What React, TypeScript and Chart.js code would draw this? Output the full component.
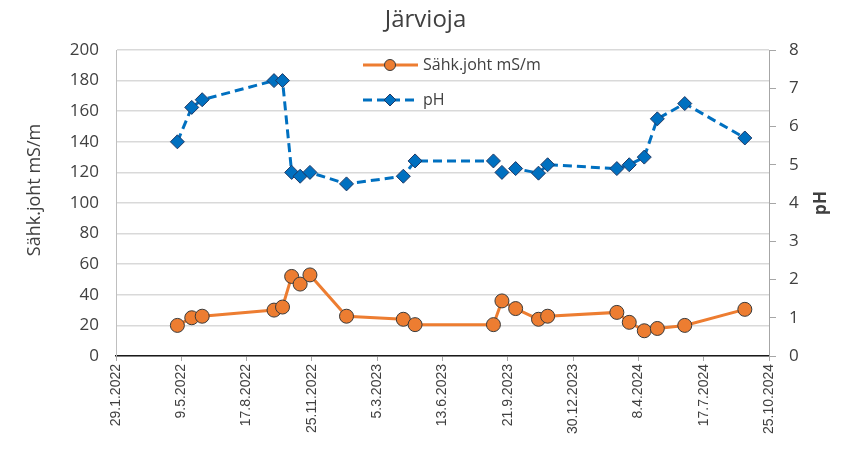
import React, { useEffect, useRef } from 'react';
import { Chart, registerables } from 'chart.js';

Chart.register(...registerables);

// ---- data ----
const chartTitle = 'Järvioja';
const leftAxisTitle = 'Sähk.joht mS/m';
const rightAxisTitle = 'pH';
const seriesNames = ['Sähk.joht mS/m', 'pH'];

const axisStartDate = '2022-01-29';
const axisEndDate = '2024-10-25';
const xTickStepDays = 100;

const sampleDates = [
  '2022-05-03', '2022-05-25', '2022-06-10', '2022-09-28', '2022-10-11', '2022-10-25',
  '2022-11-07', '2022-11-22', '2023-01-17', '2023-04-14', '2023-05-02', '2023-08-30',
  '2023-09-12', '2023-10-03', '2023-11-07', '2023-11-21', '2024-03-06', '2024-03-25',
  '2024-04-17', '2024-05-07', '2024-06-18', '2024-09-18',
];
const conductivity = [
  20, 25, 26, 30, 32, 52, 47, 53, 26, 24, 20.5, 20.5,
  36, 31, 24, 26, 28.5, 22, 16.5, 18, 20, 30.5,
];
const phValues = [
  5.6, 6.5, 6.7, 7.2, 7.2, 4.8, 4.7, 4.8, 4.5, 4.7, 5.1, 5.1,
  4.8, 4.9, 4.78, 5.0, 4.9, 5.0, 5.2, 6.2, 6.6, 5.7,
];
const leftMin = 0, leftMax = 200, leftStep = 20;
const rightMin = 0, rightMax = 8, rightStep = 1;

// ---- helpers ----
const DAY = 86400000;
const toUTC = (s: string) => {
  const [y, m, d] = s.split('-').map(Number);
  return Date.UTC(y, m - 1, d);
};
const START = toUTC(axisStartDate);
const dayOffset = (s: string) => Math.round((toUTC(s) - START) / DAY);
const fmtDate = (v: number) => {
  const dt = new Date(START + v * DAY);
  return `${dt.getUTCDate()}.${dt.getUTCMonth() + 1}.${dt.getUTCFullYear()}`;
};

const ORANGE = '#ED7D31';
const BLUE = '#0070C0';
const TEXT = '#404040';

const insideLegend = {
  id: 'insideLegend',
  afterDatasetsDraw(chart: any) {
    const ctx = chart.ctx;
    const rows = [
      { y: 65, ds: chart.data.datasets[0] },
      { y: 100, ds: chart.data.datasets[1] },
    ];
    ctx.save();
    rows.forEach(({ y, ds }) => {
      ctx.beginPath();
      ctx.setLineDash(ds.borderDash || []);
      ctx.strokeStyle = ds.borderColor;
      ctx.lineWidth = ds.borderWidth;
      ctx.moveTo(363, y);
      ctx.lineTo(418, y);
      ctx.stroke();
      ctx.setLineDash([]);
      ctx.fillStyle = ds.pointBackgroundColor;
      ctx.strokeStyle = ds.pointBorderColor;
      ctx.lineWidth = 1;
      ctx.beginPath();
      if (ds.pointStyle === 'rectRot') {
        const r = 6;
        ctx.moveTo(390 - r, y);
        ctx.lineTo(390, y - r);
        ctx.lineTo(390 + r, y);
        ctx.lineTo(390, y + r);
        ctx.closePath();
      } else {
        ctx.arc(390, y, 5.5, 0, Math.PI * 2);
      }
      ctx.fill();
      ctx.stroke();
      ctx.fillStyle = TEXT;
      ctx.font = '16px "Open Sans"';
      ctx.textAlign = 'left';
      ctx.textBaseline = 'middle';
      ctx.fillText(ds.label, 423, y);
    });
    ctx.restore();
  },
};

const axisTitles = {
  id: 'axisTitles',
  afterDraw(chart: any) {
    const ctx = chart.ctx;
    const area = chart.chartArea;
    ctx.save();
    ctx.fillStyle = TEXT;
    ctx.textAlign = 'center';
    ctx.textBaseline = 'middle';
    ctx.translate(35, 190);
    ctx.rotate(-Math.PI / 2);
    ctx.font = '18px "Open Sans"';
    ctx.fillText(leftAxisTitle, 0, 0);
    ctx.restore();
    ctx.save();
    ctx.fillStyle = TEXT;
    ctx.textAlign = 'center';
    ctx.textBaseline = 'middle';
    ctx.translate(821, (area.top + area.bottom) / 2);
    ctx.rotate(-Math.PI / 2);
    ctx.font = 'bold 17px "Open Sans"';
    ctx.fillText(rightAxisTitle, 0, 0);
    ctx.restore();
  },
};

export default function App() {
  const ref = useRef<HTMLCanvasElement | null>(null);

  useEffect(() => {
    if (!ref.current) return;
    const xs = sampleDates.map(dayOffset);
    const chart = new Chart(ref.current, {
      type: 'line',
      data: {
        datasets: [
          {
            label: seriesNames[0],
            data: xs.map((x, i) => ({ x, y: conductivity[i] })),
            yAxisID: 'y',
            borderColor: ORANGE,
            borderWidth: 3,
            pointStyle: 'circle',
            pointRadius: 7,
            pointBackgroundColor: ORANGE,
            pointBorderColor: '#3a3a3a',
            pointBorderWidth: 1,
            tension: 0,
          },
          {
            label: seriesNames[1],
            data: xs.map((x, i) => ({ x, y: phValues[i] })),
            yAxisID: 'y1',
            borderColor: BLUE,
            borderWidth: 3,
            borderDash: [9, 5],
            pointStyle: 'rectRot',
            pointRadius: 7,
            pointBackgroundColor: BLUE,
            pointBorderColor: '#1F3864',
            pointBorderWidth: 1,
            tension: 0,
          },
        ] as any,
      },
      options: {
        animation: false,
        responsive: false,
        devicePixelRatio: 1,
        layout: { padding: 0 },
        plugins: {
          legend: { display: false },
          tooltip: { enabled: false },
          title: {
            display: true,
            text: chartTitle,
            color: TEXT,
            font: { family: '"Open Sans"', size: 24, weight: 'normal' },
            padding: { top: 6, bottom: 15.2 },
          },
        },
        scales: {
          x: {
            type: 'linear',
            min: 0,
            max: dayOffset(axisEndDate),
            afterFit: (s: any) => { s.height = 100; },
            ticks: {
              stepSize: xTickStepDays,
              autoSkip: false,
              minRotation: 90,
              maxRotation: 90,
              padding: 3,
              color: TEXT,
              font: { family: '"Liberation Sans"', size: 14 },
              callback: (v: any) => fmtDate(Number(v)),
            },
            grid: {
              drawOnChartArea: false,
              drawTicks: true,
              tickLength: 5,
              color: '#a6a6a6',
            },
            border: { color: '#1a1a1a', width: 1.5 },
          },
          y: {
            position: 'left',
            min: leftMin,
            max: leftMax,
            afterFit: (s: any) => { s.width = 116; },
            ticks: {
              stepSize: leftStep,
              padding: 17,
              color: TEXT,
              font: { family: '"Open Sans"', size: 17 },
            },
            grid: {
              drawTicks: false,
              color: '#d9d9d9',
              lineWidth: 1.5,
            },
            border: { color: '#bfbfbf', width: 1 },
          },
          y1: {
            position: 'right',
            min: rightMin,
            max: rightMax,
            afterFit: (s: any) => { s.width = 82; },
            ticks: {
              stepSize: rightStep,
              padding: 13,
              color: TEXT,
              font: { family: '"Open Sans"', size: 17 },
            },
            grid: {
              drawOnChartArea: false,
              drawTicks: true,
              tickLength: 7,
              color: '#a6a6a6',
            },
            border: { color: '#a6a6a6', width: 1 },
          },
        },
      } as any,
      plugins: [insideLegend, axisTitles],
    });
    return () => chart.destroy();
  }, []);

  return (
    <div style={{ position: 'absolute', left: 0, top: 0, width: 851, height: 456, background: '#fff' }}>
      <canvas ref={ref} width={851} height={456} style={{ display: 'block', width: 851, height: 456 }} />
    </div>
  );
}
